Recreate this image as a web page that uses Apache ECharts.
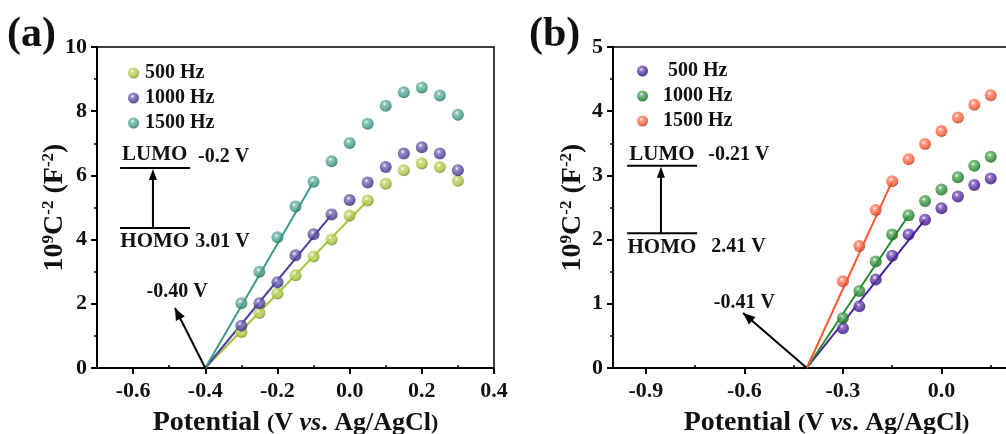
<!DOCTYPE html>
<html>
<head>
<meta charset="utf-8">
<script src="https://cdn.jsdelivr.net/npm/echarts@6/dist/echarts.min.js"></script>
<style>
  html, body { margin: 0; padding: 0; background: #fff; overflow: hidden; }
  #chart { width: 1006px; height: 434px; }
</style>
</head>
<body>
<div id="chart"></div>
<script>
// ---- Panel (a): Mott–Schottky data ----
const potentialA = [-0.30, -0.25, -0.20, -0.15, -0.10, -0.05, 0.00, 0.05, 0.10, 0.15, 0.20, 0.25, 0.30];
const a500  = [1.12, 1.71, 2.32, 2.89, 3.47, 4.00, 4.75, 5.22, 5.74, 6.16, 6.37, 6.26, 5.83];
const a1000 = [1.32, 2.02, 2.67, 3.51, 4.17, 4.78, 5.23, 5.78, 6.26, 6.68, 6.88, 6.68, 6.16];
const a1500 = [2.02, 3.00, 4.07, 5.03, 5.80, 6.44, 7.01, 7.61, 8.17, 8.59, 8.74, 8.49, 7.89];
const fitEndA = [7, 5, 4];          // last point used by each linear fit (500, 1000, 1500 Hz)
const flatBandA = -0.40;

// ---- Panel (b): Mott–Schottky data ----
const potentialB = [-0.30, -0.25, -0.20, -0.15, -0.10, -0.05, 0.00, 0.05, 0.10, 0.15];
const b500  = [0.62, 0.96, 1.38, 1.75, 2.08, 2.31, 2.49, 2.67, 2.85, 2.95];
const b1000 = [0.78, 1.20, 1.66, 2.08, 2.38, 2.60, 2.78, 2.97, 3.15, 3.29];
const b1500 = [1.35, 1.90, 2.46, 2.91, 3.25, 3.49, 3.69, 3.90, 4.10, 4.25];
const fitEndB = [5, 4, 3];
const flatBandB = -0.41;

// ---- tick labels ----
const xTicksA = [-0.6, -0.4, -0.2, 0.0, 0.2, 0.4];
const xMinorA = [-0.5, -0.3, -0.1, 0.1, 0.3];
const xTicksB = [-0.9, -0.6, -0.3, 0.0, 0.3];
const xMinorB = [-0.75, -0.45, -0.15, 0.15];

// series names (panel b names carry spacing so the two legends stay independent)
const namesA = ['500 Hz', '1000 Hz', '1500 Hz'];
const namesB = [' 500 Hz', '1000 Hz ', '1500 Hz '];
const colorsA = ['#a6c639', '#4a3f9e', '#3d9a88'];
const colorsB = ['#4a1c9c', '#228a2c', '#ff5633'];

const FONT = "'Liberation Serif', 'Times New Roman', serif";

function shade(hex, f) {
  const n = parseInt(hex.slice(1), 16);
  let r = n >> 16, g = (n >> 8) & 255, b = n & 255;
  const mix = f > 0 ? 255 : 0, k = Math.abs(f);
  r = Math.round(r + (mix - r) * k); g = Math.round(g + (mix - g) * k); b = Math.round(b + (mix - b) * k);
  return 'rgb(' + r + ',' + g + ',' + b + ')';
}
function sphere(c) {
  return {
    type: 'radial', x: 0.4, y: 0.35, r: 0.7,
    colorStops: [
      { offset: 0, color: '#ffffff' },
      { offset: 0.22, color: shade(c, 0.3) },
      { offset: 0.65, color: c },
      { offset: 1, color: shade(c, -0.4) }
    ]
  };
}

function fmt(v) { return v.toFixed(1); }

function xAxes(gridIndex, min, max, ticks, minor) {
  return [{
    type: 'value', gridIndex, min, max,
    axisLine: { show: true, onZero: false, lineStyle: { color: '#000', width: 2 } },
    axisTick: { show: true, inside: false, length: 6, customValues: ticks, lineStyle: { color: '#000', width: 2 } },
    axisLabel: { show: true, customValues: ticks, margin: 12, formatter: fmt,
      fontFamily: FONT, fontWeight: 'bold', fontSize: 22, color: '#111' },
    splitLine: { show: false },
    name: '{p|Potential }{q|(}{r|V }{i|vs}{r|. Ag/AgCl}{q|)}',
    nameLocation: 'middle', nameGap: 41, nameMoveOverlap: false,
    nameTextStyle: { rich: {
      p: { fontFamily: FONT, fontWeight: 'bold', fontSize: 28, color: '#111' },
      q: { fontFamily: FONT, fontWeight: 'bold', fontSize: 22, color: '#111' },
      r: { fontFamily: FONT, fontWeight: 'bold', fontSize: 26, color: '#111' },
      i: { fontFamily: FONT, fontWeight: 'bold', fontStyle: 'italic', fontSize: 26, color: '#111' }
    } }
  }, {
    type: 'value', gridIndex, min, max,
    axisLine: { show: false },
    axisTick: { show: true, inside: false, length: 3, customValues: minor, lineStyle: { color: '#000', width: 1.5 } },
    axisLabel: { show: false },
    splitLine: { show: false }
  }];
}

function yAxis(gridIndex, max, interval, gap) {
  return {
    type: 'value', gridIndex, min: 0, max, interval,
    axisLine: { show: true, onZero: false, lineStyle: { color: '#000', width: 2 } },
    axisTick: { show: true, inside: false, length: 6, lineStyle: { color: '#000', width: 2 } },
    minorTick: { show: true, splitNumber: 2, length: 3, lineStyle: { color: '#000', width: 1.5 } },
    axisLabel: { margin: 10, fontFamily: FONT, fontWeight: 'bold', fontSize: 22, color: '#111' },
    splitLine: { show: false },
    name: '{m|10}{s|9}{m|C}{s|-2}{m| (F}{s|-2}{m|)}',
    nameLocation: 'middle', nameRotate: 90, nameGap: gap, nameMoveOverlap: false,
    nameTextStyle: { rich: {
      m: { fontFamily: FONT, fontWeight: 'bold', fontSize: 28, color: '#111', lineHeight: 30 },
      s: { fontFamily: FONT, fontWeight: 'bold', fontSize: 17, color: '#111', verticalAlign: 'top', lineHeight: 30 }
    } }
  };
}

function panelSeries(xs, ysList, names, colors, fitEnd, flat, xIdx, yIdx) {
  const out = [];
  ysList.forEach((ys, k) => {
    const e = fitEnd[k];
    out.push({
      type: 'line', xAxisIndex: xIdx, yAxisIndex: yIdx, silent: true,
      data: [[flat, 0], [xs[e], ys[e]]], symbol: 'none',
      lineStyle: { color: colors[k], width: 2 }, z: 2
    });
  });
  ysList.forEach((ys, k) => {
    out.push({
      type: 'scatter', name: names[k], xAxisIndex: xIdx, yAxisIndex: yIdx,
      data: xs.map((x, i) => [x, ys[i]]), symbolSize: 12,
      itemStyle: { color: sphere(colors[k]) }, z: 3
    });
  });
  return out;
}

const chart = echarts.init(document.getElementById('chart'), null, { renderer: 'canvas' });

const legendText = { fontFamily: FONT, fontWeight: 'bold', fontSize: 20, color: '#111' };

chart.setOption({
  backgroundColor: '#fff',
  animation: false,
  grid: [
    { left: 97, top: 47, width: 397, height: 321, outerBoundsMode: 'none',
      show: true, borderColor: '#000', borderWidth: 1.5 },
    // panel (b) runs on past the right-hand edge of the page
    { left: 613, top: 47, width: 427, height: 321, outerBoundsMode: 'none',
      show: true, borderColor: '#000', borderWidth: 1.5 }
  ],
  xAxis: [].concat(xAxes(0, -0.7, 0.4, xTicksA, xMinorA), xAxes(1, -1.0, 0.3, xTicksB, xMinorB)),
  yAxis: [yAxis(0, 10, 2, 27), yAxis(1, 5, 1, 25)],
  legend: [
    { data: namesA.slice(), orient: 'vertical', left: 123, top: 58, itemWidth: 11, itemHeight: 11,
      itemGap: 5, icon: 'circle', textStyle: Object.assign({ padding: [0, 0, 0, 1] }, legendText), selectedMode: false },
    { data: namesB.slice(), orient: 'vertical', left: 632, top: 56, itemWidth: 11, itemHeight: 11,
      itemGap: 5, icon: 'circle', textStyle: Object.assign({ padding: [0, 0, 0, 10] }, legendText), selectedMode: false }
  ],
  series: [].concat(
    panelSeries(potentialA, [a500, a1000, a1500], namesA, colorsA, fitEndA, flatBandA, 0, 0),
    panelSeries(potentialB, [b500, b1000, b1500], namesB, colorsB, fitEndB, flatBandB, 2, 1)
  )
});

// ---- band-edge sketches and flat-band arrows, placed in data space ----
const notes = [
  { grid: 0, levelX: [-0.636, -0.442], lumoY: 6.23, homoY: 4.36, stemX: -0.545,
    lumoLbl: [-0.540, 6.64], homoLbl: [-0.540, 3.93],
    lumoVal: { text: '-0.2 V', at: [-0.420, 6.57] }, homoVal: { text: '3.01 V', at: [-0.428, 3.93] },
    flat: flatBandA, tip: [-0.484, 1.87], flatLbl: { text: '-0.40 V', at: [-0.478, 2.37] } },
  { grid: 1, levelX: [-0.957, -0.744], lumoY: 3.15, homoY: 2.10, stemX: -0.854,
    lumoLbl: [-0.851, 3.32], homoLbl: [-0.851, 1.88],
    lumoVal: { text: '-0.21 V', at: [-0.710, 3.32] }, homoVal: { text: '2.41 V', at: [-0.701, 1.88] },
    flat: flatBandB, tip: [-0.604, 0.857], flatLbl: { text: '-0.41 V', at: [-0.600, 1.01] } }
];

function px(g, p) { return chart.convertToPixel({ gridIndex: g }, p); }
function arrowHead(from, to, len, half) {
  const dx = to[0] - from[0], dy = to[1] - from[1];
  const L = Math.hypot(dx, dy), ux = dx / L, uy = dy / L;
  const bx = to[0] - ux * len, by = to[1] - uy * len;
  return [[to[0], to[1]], [bx - uy * half, by + ux * half], [bx + uy * half, by - ux * half]];
}
function text(t, p, align, size) {
  return { type: 'text', z: 10, style: { text: t, x: p[0], y: p[1], align: align, verticalAlign: 'middle',
    fontFamily: FONT, fontWeight: 'bold', fontSize: size, fill: '#111' } };
}

const graphics = [];
notes.forEach(n => {
  const g = n.grid;
  const L1 = px(g, [n.levelX[0], n.lumoY]), L2 = px(g, [n.levelX[1], n.lumoY]);
  const H1 = px(g, [n.levelX[0], n.homoY]), H2 = px(g, [n.levelX[1], n.homoY]);
  const sB = px(g, [n.stemX, n.homoY]), sT = px(g, [n.stemX, n.lumoY]);
  const line = (a, b, w) => ({ type: 'line', z: 10, shape: { x1: a[0], y1: a[1], x2: b[0], y2: b[1] },
    style: { stroke: '#000', lineWidth: w } });
  graphics.push(line(L1, L2, 2), line(H1, H2, 2));
  const stemTop = [sT[0], sT[1] + 1];
  graphics.push(line(sB, [stemTop[0], stemTop[1] + 8], 2));
  graphics.push({ type: 'polygon', z: 10, shape: { points: arrowHead(sB, stemTop, 11, 4) }, style: { fill: '#000' } });
  graphics.push(text('LUMO', px(g, n.lumoLbl), 'center', 21));
  graphics.push(text('HOMO', px(g, n.homoLbl), 'center', 21));
  graphics.push(text(n.lumoVal.text, px(g, n.lumoVal.at), 'left', 20));
  graphics.push(text(n.homoVal.text, px(g, n.homoVal.at), 'left', 20));
  // flat-band potential arrow
  const o = px(g, [n.flat, 0]), tip = px(g, n.tip);
  graphics.push(line(o, tip, 2));
  graphics.push({ type: 'polygon', z: 10, shape: { points: arrowHead(o, tip, 12, 5) }, style: { fill: '#000' } });
  graphics.push(text(n.flatLbl.text, px(g, n.flatLbl.at), 'center', 20));
});
// panel tags
graphics.push({ type: 'text', z: 10, style: { text: '(a)', x: 7, y: 35, align: 'left', verticalAlign: 'middle',
  fontFamily: FONT, fontWeight: 'bold', fontSize: 42, fill: '#111' } });
graphics.push({ type: 'text', z: 10, style: { text: '(b)', x: 529, y: 35, align: 'left', verticalAlign: 'middle',
  fontFamily: FONT, fontWeight: 'bold', fontSize: 42, fill: '#111' } });

chart.setOption({ graphic: graphics });
</script>
</body>
</html>
